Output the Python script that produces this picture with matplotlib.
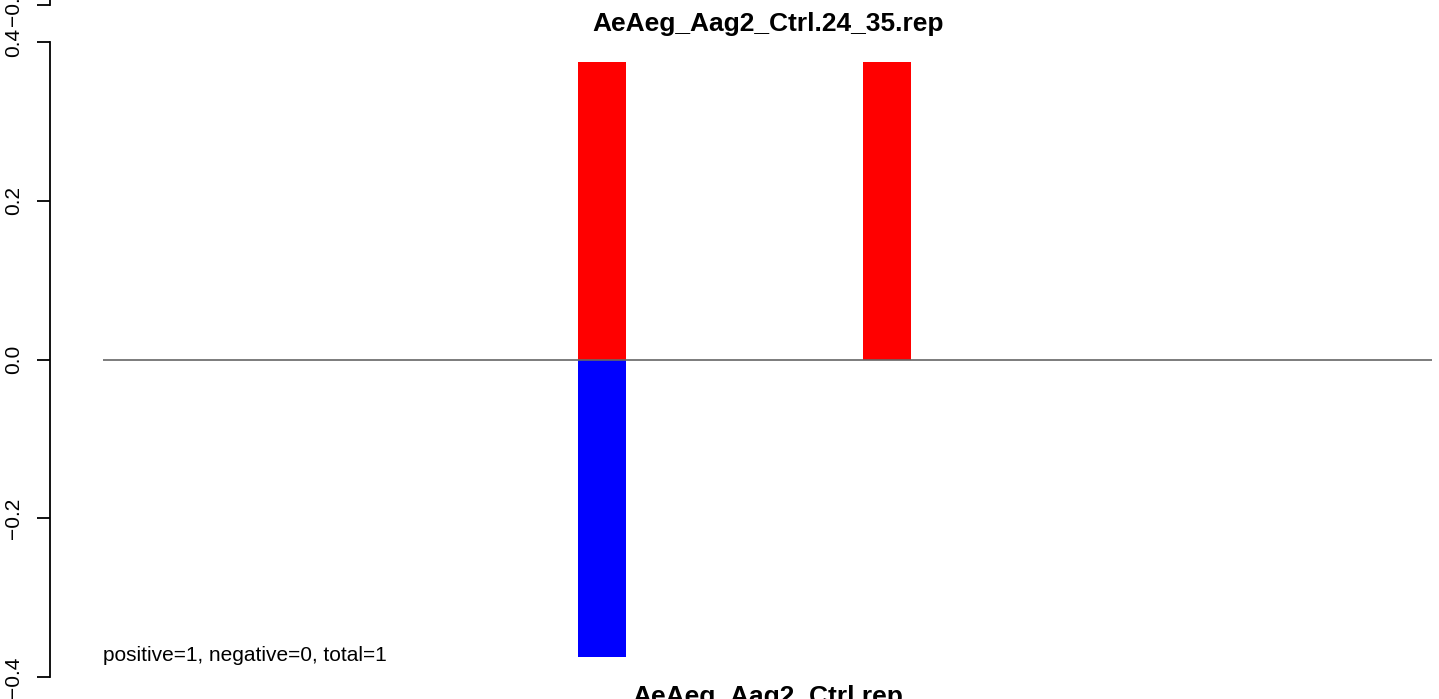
import numpy as np
import matplotlib.pyplot as plt

plt.rcParams['font.family'] = ['Liberation Sans', 'DejaVu Sans']

# slot index of each bar (22 slots)
slots = np.arange(22)
pos_vals = np.zeros(22)
neg_vals = np.zeros(22)
pos_vals[8] = 0.375
pos_vals[13] = 0.375
neg_vals[8] = -0.375

title = "AeAeg_Aag2_Ctrl.24_35.rep"
bottom_title = "AeAeg_Aag2_Ctrl.rep"
note = "positive=1, negative=0, total=1"
yticks = [-0.4, -0.2, 0.0, 0.2, 0.4]
ylabels = ['\u22120.4', '\u22120.2', '0.0', '0.2', '0.4']

W, H = 1439, 699
fig = plt.figure(figsize=(W / 100, H / 100), dpi=100)

# main panel: x 103..1432 px, y 42..677 px
ax = fig.add_axes([103 / W, (H - 677) / H, (1432 - 103) / W, (677 - 42) / H])
ax.bar(slots, pos_vals, width=0.842, color='#ff0000')
ax.bar(slots, neg_vals, width=0.842, color='#0000ff')
ax.axhline(0, color='#666666', lw=1.2)
ax.set_xlim(-0.75, 22.56)
ax.set_ylim(-0.4, 0.4)
for s in ['top', 'right', 'bottom']:
    ax.spines[s].set_visible(False)
ax.spines['left'].set_position(('outward', 38))
ax.spines['left'].set_linewidth(1.3)
ax.set_xticks([])
ax.set_yticks(yticks)
ax.set_yticklabels(ylabels, rotation=90, va='center')
ax.tick_params(axis='y', length=9.4, width=1.3, pad=10, labelsize=15)
ax.text(-0.75, -0.38, note, fontsize=15, va='baseline', ha='left')

# fragment of the panel above (cut by the figure edge)
ax2 = fig.add_axes([103 / W, (H - 5) / H, (1432 - 103) / W, 0.9])
ax2.set_ylim(-0.4, 0.4)
ax2.set_xlim(0, 1)
for s in ['top', 'right', 'bottom']:
    ax2.spines[s].set_visible(False)
ax2.spines['left'].set_position(('outward', 38))
ax2.spines['left'].set_linewidth(1.3)
ax2.set_xticks([])
ax2.set_yticks(yticks)
ax2.set_yticklabels(ylabels, rotation=90, va='center')
ax2.tick_params(axis='y', length=9.4, width=1.3, pad=10, labelsize=15)
ax2.patch.set_visible(False)

fig.text(768 / W, (H - 31) / H, title, fontsize=19, fontweight='bold', ha='center', va='baseline')
fig.text(768 / W, (H - 704) / H, bottom_title, fontsize=19, fontweight='bold', ha='center', va='baseline')

fig.savefig('out.png', dpi=100)
